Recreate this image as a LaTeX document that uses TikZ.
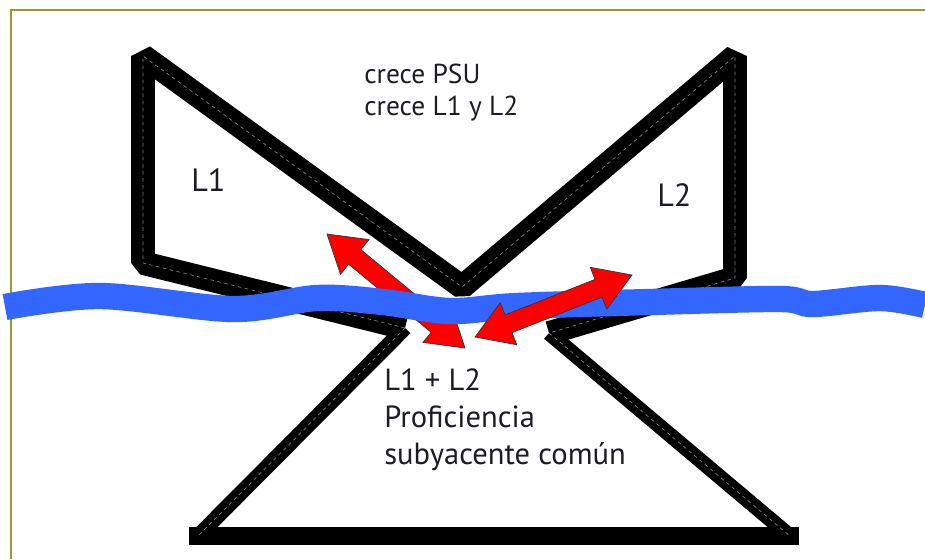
\documentclass[tikz,border=0pt]{standalone}
\usepackage{fontspec}
\setmainfont{PT Sans}
\usetikzlibrary{calc}
\definecolor{water}{RGB}{51,102,255}
\definecolor{olive}{RGB}{153,153,51}
\definecolor{ink}{RGB}{28,28,36}
\tikzset{
  edge/.style={line width=13.5pt, line join=bevel},
  seam/.style={black!50, line width=0.4pt, dash pattern=on 2pt off 2pt},
  twoway/.style={draw=black!80, line width=0.4pt, fill=red, line join=miter},
  txt/.style={ink, inner sep=0pt, anchor=base west, align=left}
}
% red double arrow from tip #1 to tip #2
\newcommand{\dblarrow}[2]{%
  \filldraw[twoway] (#1)
    -- ($(#1)!0.72cm!(#2)!0.45cm!90:(#2)$)
    -- ($(#1)!0.72cm!(#2)!0.19cm!90:(#2)$)
    -- ($(#2)!0.72cm!(#1)!0.19cm!-90:(#1)$)
    -- ($(#2)!0.72cm!(#1)!0.45cm!-90:(#1)$)
    -- (#2)
    -- ($(#2)!0.72cm!(#1)!0.45cm!90:(#1)$)
    -- ($(#2)!0.72cm!(#1)!0.19cm!90:(#1)$)
    -- ($(#1)!0.72cm!(#2)!0.19cm!-90:(#2)$)
    -- ($(#1)!0.72cm!(#2)!0.45cm!-90:(#2)$)
    -- cycle;}
\begin{document}
\begin{tikzpicture}[x=0.02cm,y=-0.02cm]
\useasboundingbox (0,0) rectangle (925,559);
\draw[olive, line width=1pt] (11,559) -- (11,10) -- (925,10);
% corners of the two icebergs
\coordinate (ice0) at (143,56);
\coordinate (ice1) at (143,263);
\coordinate (ice2) at (405,328);
\coordinate (ice3) at (198,536);
\coordinate (ice4) at (790,536);
\coordinate (ice5) at (549,333);
\coordinate (ice6) at (735,278);
\coordinate (ice7) at (735,56);
\coordinate (ice8) at (462,287);
\draw[edge] (ice2) -- (ice1) -- (ice0) -- (ice8) -- (ice7) -- (ice6) -- (ice5);
\fill (596,166) -- (611,166) -- (611,151) -- cycle;
\draw[line width=8.6pt] (ice2) -- (ice3);
\draw[line width=8.6pt] (ice5) -- (ice4);
\draw[line width=10.4pt, line cap=rect] (ice3) -- (ice4);
\draw[seam] (ice2) -- (ice1) -- (ice0) -- (ice8) -- (ice7) -- (ice6) -- (ice5);
\draw[seam] (ice2) -- (ice3) (ice5) -- (ice4);
% arrow tips
\coordinate (tipA1) at (327,234);
\coordinate (tipA2) at (465,348);
\coordinate (tipB1) at (475,337);
\coordinate (tipB2) at (632,275);
% arrows and water line
\dblarrow{tipA1}{tipA2}
\draw[water, line width=15pt] plot[smooth, tension=0.55] coordinates {(5,307) (100,296) (233,309) (317,298) (383,302) (450,311) (517,306) (650,302) (780,299) (813,304) (880,298) (925,305)};
\dblarrow{tipB1}{tipB2}
% labels
\node[txt, font=\fontsize{15.6}{18.2}\selectfont] (grow) at (364,115) {crece PSU\\crece L1 y L2};
\node[txt, font=\fontsize{18.3}{22}\selectfont] (lab1) at (191,191) {L1};
\node[txt, font=\fontsize{18.3}{22}\selectfont] (lab2) at (657,206) {L2};
\node[txt, font=\fontsize{17.4}{20.8}\selectfont] (cup) at (384,464) {L1 + L2\\Proficiencia\\subyacente común};
\end{tikzpicture}
\end{document}
